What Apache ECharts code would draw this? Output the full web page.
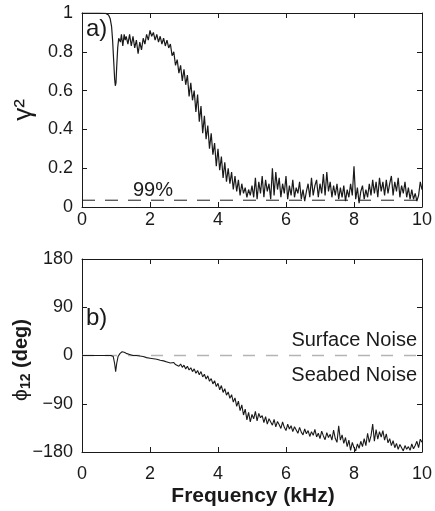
<!DOCTYPE html>
<html>
<head>
<meta charset="utf-8">
<script src="https://cdn.jsdelivr.net/npm/echarts@6/dist/echarts.min.js"></script>
<style>
  html, body { margin: 0; padding: 0; background: #fff; }
  #chart { width: 435px; height: 511px; }
</style>
</head>
<body>
<div id="chart"></div>
<script>
// frequency grid (kHz) for the sampled part of both curves
var freqStart = 1.30;
var freqStep = 0.05;

// a) coherence, low-frequency part read as (kHz, value) pairs
var gammaHead = [
    [0, 1], [0.5, 1], [0.7, 0.998], [0.78, 0.99], [0.83, 0.97], [0.87, 0.93],
    [0.9, 0.86], [0.93, 0.76], [0.96, 0.66], [0.98, 0.625], [1.0, 0.64],
    [1.02, 0.72], [1.05, 0.82], [1.08, 0.87], [1.1, 0.88], [1.13, 0.85],
    [1.16, 0.89], [1.2, 0.83], [1.24, 0.89], [1.27, 0.86]
];
// a) coherence from 1.30 kHz to 10 kHz, every 0.05 kHz
var gammaTail = [
    0.88, 0.84, 0.89, 0.83, 0.88, 0.82, 0.86, 0.79, 0.85, 0.81,
    0.87, 0.84, 0.89, 0.86, 0.91, 0.88, 0.90, 0.86, 0.89, 0.85,
    0.88, 0.84, 0.87, 0.83, 0.86, 0.82, 0.84, 0.78, 0.80, 0.73,
    0.76, 0.69, 0.73, 0.65, 0.71, 0.63, 0.68, 0.57, 0.64, 0.55,
    0.60, 0.49, 0.58, 0.44, 0.52, 0.38, 0.47, 0.35, 0.42, 0.30,
    0.38, 0.27, 0.33, 0.21, 0.30, 0.19, 0.26, 0.15, 0.23, 0.13,
    0.20, 0.12, 0.18, 0.09, 0.16, 0.08, 0.14, 0.06, 0.12, 0.07,
    0.10, 0.05, 0.09, 0.06, 0.11, 0.05, 0.15, 0.04, 0.13, 0.07,
    0.16, 0.05, 0.14, 0.08, 0.12, 0.04, 0.20, 0.06, 0.18, 0.09,
    0.15, 0.05, 0.12, 0.07, 0.16, 0.04, 0.11, 0.06, 0.14, 0.05,
    0.10, 0.07, 0.13, 0.04, 0.09, 0.03, 0.08, 0.12, 0.05, 0.15,
    0.06, 0.11, 0.14, 0.05, 0.12, 0.07, 0.17, 0.06, 0.18, 0.08,
    0.13, 0.05, 0.11, 0.06, 0.12, 0.04, 0.10, 0.05, 0.11, 0.03,
    0.09, 0.05, 0.12, 0.06, 0.21, 0.04, 0.10, 0.02, 0.08, 0.11,
    0.04, 0.09, 0.05, 0.12, 0.06, 0.14, 0.07, 0.13, 0.05, 0.15,
    0.08, 0.13, 0.06, 0.14, 0.07, 0.12, 0.16, 0.06, 0.13, 0.08,
    0.15, 0.05, 0.11, 0.07, 0.13, 0.05, 0.10, 0.04, 0.09, 0.04,
    0.07, 0.03, 0.06, 0.13, 0.09
];
var conf99 = 0.035;

// b) phase (deg), low-frequency part
var phaseHead = [
    [0, 0], [0.85, 0], [0.92, -2], [0.96, -15], [0.99, -30], [1.02, -15],
    [1.06, -2], [1.12, 4], [1.18, 7], [1.24, 6]
];
// b) phase from 1.30 kHz to 10 kHz, every 0.05 kHz
var phaseTail = [
    4, 3, 2, 1, 0, -1, 0, -2, -1, -3,
    -2, -3, -4, -2, -5, -3, -6, -4, -7, -5,
    -9, -6, -10, -8, -12, -9, -14, -11, -13, -17,
    -14, -20, -16, -22, -18, -25, -20, -27, -23, -30,
    -25, -33, -28, -36, -30, -40, -35, -44, -38, -48,
    -43, -53, -47, -58, -52, -64, -56, -69, -62, -74,
    -68, -80, -73, -87, -79, -95, -85, -103, -92, -111,
    -100, -120, -106, -124, -110, -118, -104, -122, -108, -116,
    -112, -125, -114, -128, -118, -124, -130, -119, -133, -123,
    -129, -136, -124, -134, -140, -128, -137, -131, -142, -133,
    -139, -145, -134, -143, -148, -137, -146, -140, -151, -142,
    -149, -138, -152, -145, -155, -141, -150, -157, -144, -153,
    -147, -158, -139, -155, -162, -131, -158, -148, -164, -153,
    -170, -158, -177, -162, -172, -178, -165, -173, -160, -170,
    -155, -168, -145, -162, -150, -128, -160, -138, -156, -142,
    -152, -140, -158, -146, -163, -155, -168, -159, -172, -164,
    -175, -166, -172, -178, -168, -175, -170, -177, -165, -174,
    -168, -160, -172, -156, -162
];
var phaseRef = 0;

var xTicks = [0, 2, 4, 6, 8, 10];
var gammaTicks = [0, 0.2, 0.4, 0.6, 0.8, 1];
var phaseTicks = [-180, -90, 0, 90, 180];

function joinCurve(head, tail) {
    var out = head.slice();
    for (var i = 0; i < tail.length; i++) {
        out.push([+(freqStart + i * freqStep).toFixed(2), tail[i]]);
    }
    return out;
}

var font = 'Liberation Sans, Arial, sans-serif';
var ink = '#1a1a1a';

function frameAxis(grid, pos, min, max, interval, labels, margin) {
    return {
        type: 'value',
        gridIndex: grid,
        position: pos,
        min: min,
        max: max,
        interval: interval,
        axisLine: { show: true, onZero: false, lineStyle: { color: ink, width: 1 } },
        axisTick: { show: true, inside: true, length: 5, lineStyle: { color: ink } },
        splitLine: { show: false },
        axisLabel: {
            show: labels,
            margin: margin,
            color: ink,
            fontFamily: font,
            fontSize: 18,
            formatter: function (v) { return String(v).replace('-', '\u2212'); }
        }
    };
}

var chart = echarts.init(document.getElementById('chart'));
chart.setOption({
    animation: false,
    backgroundColor: '#fff',
    grid: [
        { left: 82, top: 13, width: 343, height: 194 },
        { left: 82, top: 259, width: 343, height: 193 }
    ],
    xAxis: [
        frameAxis(0, 'bottom', xTicks[0], xTicks[xTicks.length - 1], 2, true, 4),
        frameAxis(0, 'top', xTicks[0], xTicks[xTicks.length - 1], 2, false, 4),
        frameAxis(1, 'bottom', xTicks[0], xTicks[xTicks.length - 1], 2, true, 13),
        frameAxis(1, 'top', xTicks[0], xTicks[xTicks.length - 1], 2, false, 4)
    ],
    yAxis: [
        frameAxis(0, 'left', gammaTicks[0], gammaTicks[gammaTicks.length - 1], 0.2, true, 9),
        frameAxis(0, 'right', gammaTicks[0], gammaTicks[gammaTicks.length - 1], 0.2, false, 9),
        frameAxis(1, 'left', phaseTicks[0], phaseTicks[phaseTicks.length - 1], 90, true, 9),
        frameAxis(1, 'right', phaseTicks[0], phaseTicks[phaseTicks.length - 1], 90, false, 9)
    ],
    series: [
        {
            type: 'line', xAxisIndex: 0, yAxisIndex: 0, symbol: 'none',
            data: [[xTicks[0], conf99], [xTicks[xTicks.length - 1], conf99]],
            lineStyle: { color: ink, width: 1, type: [13, 10] }
        },
        {
            type: 'line', xAxisIndex: 0, yAxisIndex: 0, symbol: 'none',
            data: joinCurve(gammaHead, gammaTail),
            lineStyle: { color: ink, width: 1.2 }
        },
        {
            type: 'line', xAxisIndex: 2, yAxisIndex: 2, symbol: 'none',
            data: [[xTicks[0], phaseRef], [xTicks[xTicks.length - 1], phaseRef]],
            lineStyle: { color: '#b4b4b4', width: 1.5, type: [12, 11] }
        },
        {
            type: 'line', xAxisIndex: 2, yAxisIndex: 2, symbol: 'none',
            data: joinCurve(phaseHead, phaseTail),
            lineStyle: { color: ink, width: 1.1 }
        }
    ],
    graphic: [
        { type: 'text', left: 86, top: 17, style: { text: 'a)', font: '24px ' + font, fill: ink } },
        { type: 'text', left: 86, top: 306, style: { text: 'b)', font: '24px ' + font, fill: ink } },
        { type: 'text', x: 153, y: 190, style: { text: '99%', font: '20px ' + font, fill: ink, textAlign: 'center', textVerticalAlign: 'middle' } },
        { type: 'text', x: 417, y: 340, style: { text: 'Surface Noise', font: '20px ' + font, fill: ink, textAlign: 'right', textVerticalAlign: 'middle' } },
        { type: 'text', x: 417, y: 375, style: { text: 'Seabed Noise', font: '20px ' + font, fill: ink, textAlign: 'right', textVerticalAlign: 'middle' } },
        { type: 'text', x: 253, y: 496, style: { text: 'Frequency (kHz)', font: 'bold 21px ' + font, fill: ink, textAlign: 'center', textVerticalAlign: 'middle' } },
        {
            type: 'text', x: 24, y: 110, rotation: Math.PI / 2,
            style: { text: 'γ²', font: '26px ' + font, fill: ink, textAlign: 'center', textVerticalAlign: 'middle' }
        },
        {
            type: 'text', x: 21, y: 360, rotation: Math.PI / 2,
            style: {
                text: '{p|ϕ}{s|12}{d| (deg)}',
                fill: ink,
                textAlign: 'center',
                textVerticalAlign: 'middle',
                rich: {
                    p: { fontFamily: font, fontSize: 21, lineHeight: 26, fill: ink },
                    s: { fontFamily: font, fontSize: 14, fontWeight: 'bold', lineHeight: 26, padding: [10, 0, 0, 0], fill: ink },
                    d: { fontFamily: font, fontSize: 20, fontWeight: 'bold', lineHeight: 26, fill: ink }
                }
            }
        }
    ]
});
</script>
</body>
</html>
